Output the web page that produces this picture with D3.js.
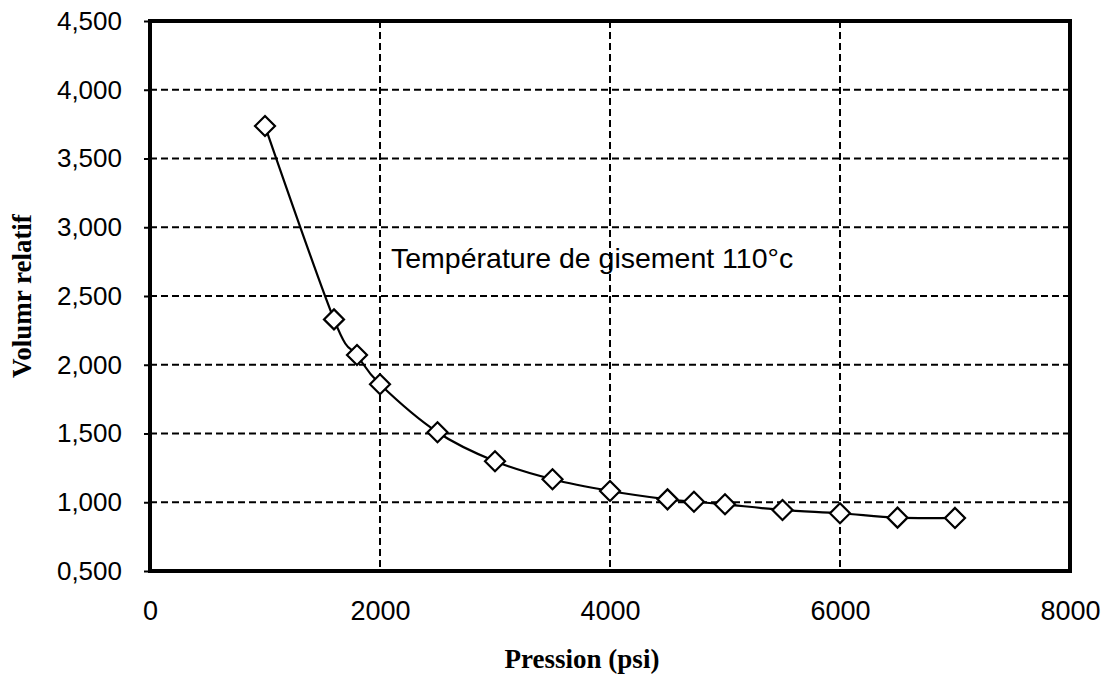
<!DOCTYPE html>
<html>
<head>
<meta charset="utf-8">
<script src="https://cdn.jsdelivr.net/npm/d3@7"></script>
<style>
  html, body { margin: 0; padding: 0; background: #fff; }
  svg { display: block; }
</style>
</head>
<body>
<svg id="chart" width="1105" height="675"></svg>
<script>
// Relative volume vs pressure at reservoir temperature
const pressure = [1000, 1600, 1800, 2000, 2500, 3000, 3500, 4000, 4500, 4730, 5000, 5500, 6000, 6500, 7000];
const relVolume = [3.736, 2.330, 2.071, 1.858, 1.509, 1.298, 1.167, 1.082, 1.021, 1.004, 0.985, 0.944, 0.920, 0.888, 0.886];

const xTicks = [0, 2000, 4000, 6000, 8000];
const yTicks = [0.5, 1.0, 1.5, 2.0, 2.5, 3.0, 3.5, 4.0, 4.5];

const xTitle = "Pression (psi)";
const yTitle = "Volumr relatif";
const note = "Température de gisement 110°c";

const svg = d3.select("#chart");
const plotL = 150, plotR = 1070, plotT = 21, plotB = 571;

const x = d3.scaleLinear().domain([0, 8000]).range([plotL, plotR]);
const y = d3.scaleLinear().domain([0.5, 4.5]).range([plotB, plotT]);

// French-style decimal comma
const fr = d3.formatLocale({ decimal: ",", thousands: " ", grouping: [3], currency: ["", ""] });
const fmtY = fr.format(".3f");

// Dashed grid
const grid = svg.append("g").attr("stroke", "#000").attr("stroke-width", 2).attr("stroke-dasharray", "7,4");
grid.selectAll("line.h").data(yTicks.filter(v => v > 0.5 && v < 4.5)).join("line")
  .attr("class", "h")
  .attr("x1", plotL).attr("x2", plotR)
  .attr("y1", d => y(d)).attr("y2", d => y(d));
grid.selectAll("line.v").data(xTicks.filter(v => v > 0 && v < 8000)).join("line")
  .attr("class", "v")
  .attr("y1", plotT).attr("y2", plotB)
  .attr("x1", d => x(d)).attr("x2", d => x(d));

// Y axis ticks and labels
const yAxis = d3.axisLeft(y).tickValues(yTicks).tickFormat(fmtY).tickSize(6).tickPadding(22);
const gy = svg.append("g").attr("transform", `translate(${plotL},0)`).call(yAxis);
gy.select(".domain").remove();
gy.selectAll(".tick line").attr("stroke", "#000").attr("stroke-width", 2);
gy.selectAll(".tick text")
  .attr("font-family", "'Liberation Sans', Arial, sans-serif")
  .attr("font-size", 26).attr("fill", "#000");

// X axis labels
const xAxis = d3.axisBottom(x).tickValues(xTicks).tickFormat(d3.format("d")).tickSize(0).tickPadding(30);
const gx = svg.append("g").attr("transform", `translate(0,${plotB})`).call(xAxis);
gx.select(".domain").remove();
gx.selectAll(".tick text")
  .attr("font-family", "'Liberation Sans', Arial, sans-serif")
  .attr("font-size", 27).attr("fill", "#000");

// Plot frame
svg.append("rect")
  .attr("x", plotL).attr("y", plotT)
  .attr("width", plotR - plotL).attr("height", plotB - plotT)
  .attr("fill", "none").attr("stroke", "#000").attr("stroke-width", 4);

// Smoothed curve
const line = d3.line()
  .x((d, i) => x(pressure[i]))
  .y(d => y(d))
  .curve(d3.curveCatmullRom.alpha(0));
svg.append("path")
  .datum(relVolume)
  .attr("d", line)
  .attr("fill", "none").attr("stroke", "#000").attr("stroke-width", 2.2);

// Diamond markers
const s = 10;
svg.append("g").selectAll("path").data(relVolume).join("path")
  .attr("transform", (d, i) => `translate(${x(pressure[i])},${y(d)})`)
  .attr("d", `M0,${-s}L${s},0L0,${s}L${-s},0Z`)
  .attr("fill", "#fff").attr("stroke", "#000").attr("stroke-width", 2.2);

// Annotation
svg.append("text")
  .attr("x", 391).attr("y", 268)
  .attr("font-family", "'Liberation Sans', Arial, sans-serif")
  .attr("font-size", 28.5).attr("fill", "#000")
  .text(note);

// Axis titles
svg.append("text")
  .attr("x", 582).attr("y", 668)
  .attr("text-anchor", "middle")
  .attr("font-family", "'Liberation Serif', 'Times New Roman', serif")
  .attr("font-weight", "bold").attr("font-size", 27).attr("fill", "#000")
  .text(xTitle);

svg.append("text")
  .attr("transform", "translate(31,296) rotate(-90)")
  .attr("text-anchor", "middle")
  .attr("font-family", "'Liberation Serif', 'Times New Roman', serif")
  .attr("font-weight", "bold").attr("font-size", 27).attr("fill", "#000")
  .text(yTitle);
</script>
</body>
</html>
